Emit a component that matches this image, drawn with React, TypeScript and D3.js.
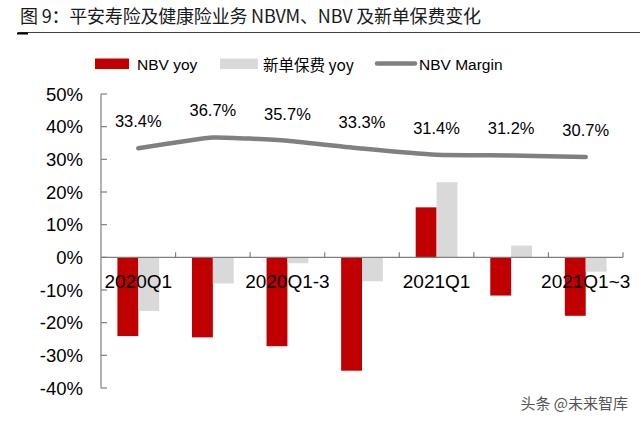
import React from "react";
import * as d3 from "d3";

const categories = ["2020Q1", "2020H1", "2020Q1-3", "2020", "2021Q1", "2021H1", "2021Q1~3"];
const shownLabels = ["2020Q1", "", "2020Q1-3", "", "2021Q1", "", "2021Q1~3"];
const nbvYoy = [-24.1, -24.5, -27.2, -34.7, 15.3, -11.7, -17.9];
const premiumYoy = [-16.4, -8.0, -1.8, -7.3, 23.0, 3.6, -4.4];
const nbvMargin = [33.4, 36.7, 35.7, 33.3, 31.4, 31.2, 30.7];
const yTicks = [50, 40, 30, 20, 10, 0, -10, -20, -30, -40];

const W = 640;
const H = 423;
const FONT = "'Liberation Sans', Arial, 'Noto Sans CJK SC', sans-serif";
const CJK = "'Noto Sans CJK SC', 'Liberation Sans', sans-serif";

export default function App() {
  const x = d3.scaleBand<string>().domain(categories).range([101, 623]).paddingInner(0).paddingOuter(0);
  const y = d3.scaleLinear().domain([-40, 50]).range([388, 94]);
  const bw = x.bandwidth();
  const barW = bw * 0.28;
  const cx = (c: string) => (x(c) as number) + bw / 2;
  const line = d3
    .line<number>()
    .x((_, i) => cx(categories[i]))
    .y((d) => y(d))
    .curve(d3.curveCardinal.tension(0.6));
  const axisColor = "#7f7f7f";

  return (
    <svg width={W} height={H} style={{ position: "absolute", left: 0, top: 0, background: "#fff" }}>
      {/* Title */}
      <text x={20} y={15} fontFamily={CJK} fontSize={18} fill="#1a1a1a" dominantBaseline="central" textLength={461} lengthAdjust="spacing">
        图 9：平安寿险及健康险业务 NBVM、NBV 及新单保费变化
      </text>
      <line x1={18} x2={640} y1={32.5} y2={32.5} stroke="#404040" strokeWidth={1} />
      <line x1={17} x2={28} y1={33.5} y2={33.5} stroke="#000" strokeWidth={2} />

      {/* Legend */}
      <rect x={95} y={58.5} width={34} height={10.5} fill="#C00000" />
      <text x={137} y={64} fontFamily={FONT} fontSize={15.5} fill="#000" dominantBaseline="central">NBV yoy</text>
      <rect x={220} y={58.5} width={38} height={10.5} fill="#D9D9D9" />
      <text x={263} y={64} fontFamily={CJK} fontSize={15.5} fill="#000" dominantBaseline="central">新单保费 yoy</text>
      <line x1={377} x2={415} y1={63.5} y2={63.5} stroke="#808080" strokeWidth={4.5} strokeLinecap="round" />
      <text x={419} y={64} fontFamily={FONT} fontSize={15.5} fill="#000" dominantBaseline="central">NBV Margin</text>

      {/* Bars */}
      {categories.map((c, i) => (
        <g key={c}>
          <rect
            x={cx(c) - barW}
            width={barW}
            y={Math.min(y(nbvYoy[i]), y(0))}
            height={Math.abs(y(nbvYoy[i]) - y(0))}
            fill="#C00000"
          />
          <rect
            x={cx(c)}
            width={barW}
            y={Math.min(y(premiumYoy[i]), y(0))}
            height={Math.abs(y(premiumYoy[i]) - y(0))}
            fill="#D9D9D9"
          />
        </g>
      ))}

      {/* Y axis */}
      <line x1={101} x2={101} y1={y(50)} y2={y(-40)} stroke={axisColor} strokeWidth={1.2} />
      {yTicks.map((t) => (
        <g key={t}>
          <line x1={101} x2={107} y1={y(t)} y2={y(t)} stroke={axisColor} strokeWidth={1.2} />
          <text x={83} y={y(t)} textAnchor="end" dominantBaseline="central" fontFamily={FONT} fontSize={18.5} fill="#000">
            {t}%
          </text>
        </g>
      ))}

      {/* X axis */}
      <line x1={101} x2={623} y1={y(0)} y2={y(0)} stroke={axisColor} strokeWidth={1.2} />
      {categories.map((c) => (
        <line key={c} x1={(x(c) as number) + bw} x2={(x(c) as number) + bw} y1={y(0)} y2={y(0) - 5} stroke={axisColor} strokeWidth={1.2} />
      ))}
      {categories.map((c, i) =>
        shownLabels[i] ? (
          <text key={c} x={cx(c)} y={281} textAnchor="middle" dominantBaseline="central" fontFamily={FONT} fontSize={19} fill="#000">
            {shownLabels[i]}
          </text>
        ) : null
      )}

      {/* Line */}
      <path d={line(nbvMargin) || ""} fill="none" stroke="#808080" strokeWidth={4.5} strokeLinecap="round" strokeLinejoin="round" />
      {categories.map((c, i) => (
        <text key={c} x={cx(c)} y={y(nbvMargin[i]) - 27} textAnchor="middle" dominantBaseline="central" fontFamily={FONT} fontSize={16.5} fill="#000">
          {nbvMargin[i].toFixed(1)}%
        </text>
      ))}

      {/* Watermark */}
      <text x={628} y={402} textAnchor="end" dominantBaseline="central" fontFamily={CJK} fontSize={15} fill="#555">
        头条 @未来智库
      </text>
    </svg>
  );
}
